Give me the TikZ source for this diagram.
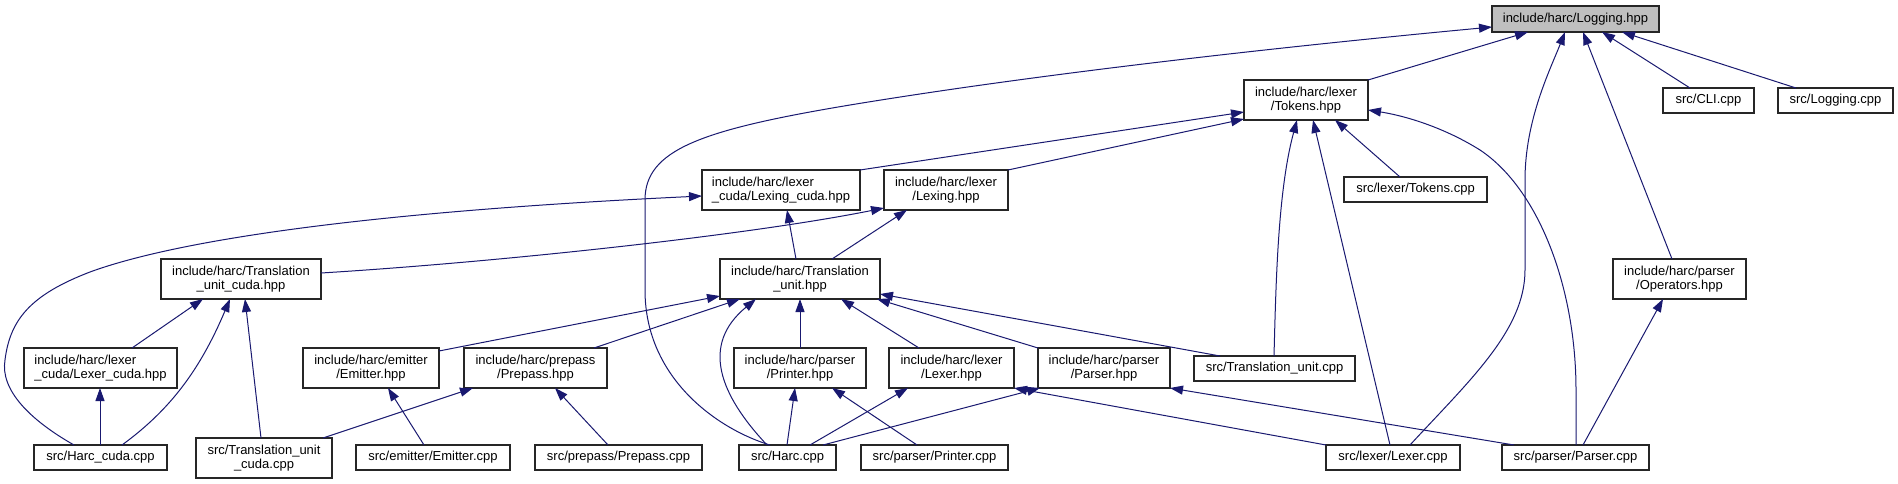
\documentclass[tikz,border=0pt]{standalone}
\usepackage{fontspec}
\setmainfont{Liberation Sans}
\usetikzlibrary{arrows.meta}
\definecolor{edgeblue}{HTML}{191970}
\definecolor{rootgray}{HTML}{BFBFBF}
\begin{document}
\begin{tikzpicture}[x=1pt,y=-1pt,
  box/.style={draw=black!85, line width=1.1pt, fill=white, inner sep=0pt, outer sep=0pt,
    font=\fontsize{13pt}{14.7pt}\selectfont, align=center},
  edge/.style={draw=edgeblue, line width=1pt, -{Triangle[length=13pt,width=9pt]}},
]
\fill[white] (0,0) rectangle (1898,484);
\useasboundingbox (0,0) rectangle (1898,484);

% rank 0
\node[box, fill=rootgray, minimum width=167pt, minimum height=26pt] (log) at (1575.5,19) {include/harc/Logging.hpp};
% rank 1
\node[box, minimum width=124pt, minimum height=40pt] (tokh) at (1306,100) {include/harc/lexer\\/Tokens.hpp};
\node[box, minimum width=91pt, minimum height=25pt] (cli) at (1708.5,100.5) {src/CLI.cpp};
\node[box, minimum width=115pt, minimum height=25pt] (logc) at (1835.5,100.5) {src/Logging.cpp};
% rank 2
\node[box, align=left, minimum width=158pt, minimum height=40pt] (lexcudah) at (781,190) {include/harc/lexer\\\_cuda/Lexing\_cuda.hpp};
\node[box, minimum width=124pt, minimum height=40pt] (lexingh) at (946,190) {include/harc/lexer\\/Lexing.hpp};
\node[box, minimum width=143pt, minimum height=25pt] (tokc) at (1415.5,189.5) {src/lexer/Tokens.cpp};
% rank 3
\node[box, minimum width=160pt, minimum height=40pt] (tucudah) at (241,279) {include/harc/Translation\\\_unit\_cuda.hpp};
\node[box, minimum width=160pt, minimum height=40pt] (tuh) at (800,279) {include/harc/Translation\\\_unit.hpp};
\node[box, minimum width=133pt, minimum height=40pt] (oph) at (1679.5,279) {include/harc/parser\\/Operators.hpp};
% rank 4
\node[box, align=left, minimum width=153pt, minimum height=40pt] (lexercudah) at (100.5,368) {include/harc/lexer\\\_cuda/Lexer\_cuda.hpp};
\node[box, minimum width=136pt, minimum height=40pt] (emith) at (371,368) {include/harc/emitter\\/Emitter.hpp};
\node[box, minimum width=143pt, minimum height=40pt] (prepassh) at (535.5,368) {include/harc/prepass\\/Prepass.hpp};
\node[box, minimum width=132pt, minimum height=40pt] (printh) at (800,368) {include/harc/parser\\/Printer.hpp};
\node[box, minimum width=125pt, minimum height=40pt] (lexerh) at (951.5,368) {include/harc/lexer\\/Lexer.hpp};
\node[box, minimum width=132pt, minimum height=40pt] (parseh) at (1104,368) {include/harc/parser\\/Parser.hpp};
\node[box, minimum width=161pt, minimum height=25pt] (tuc) at (1274.5,368.5) {src/Translation\_unit.cpp};
% rank 5
\node[box, minimum width=133pt, minimum height=25pt] (harccuda) at (100.5,457.5) {src/Harc\_cuda.cpp};
\node[box, minimum width=136pt, minimum height=40pt] (tucudac) at (264,458) {src/Translation\_unit\\\_cuda.cpp};
\node[box, minimum width=154pt, minimum height=25pt] (emitc) at (433,457.5) {src/emitter/Emitter.cpp};
\node[box, minimum width=167pt, minimum height=25pt] (prepassc) at (618.5,457.5) {src/prepass/Prepass.cpp};
\node[box, minimum width=97pt, minimum height=25pt] (harc) at (787.5,457.5) {src/Harc.cpp};
\node[box, minimum width=147pt, minimum height=25pt] (printc) at (934.5,457.5) {src/parser/Printer.cpp};
\node[box, minimum width=134pt, minimum height=25pt] (lexerc) at (1393,457.5) {src/lexer/Lexer.cpp};
\node[box, minimum width=147pt, minimum height=25pt] (parsec) at (1575.5,457.5) {src/parser/Parser.cpp};

% edges to Logging.hpp
\draw[edge] ([xshift=31pt]harc.north west) .. controls (720,430) and (645,380) .. (645,290) -- (645,200) .. controls (645,150) and (700,130) .. (850,105) .. controls (1050,72) and (1300,45) .. ([yshift=-8pt]log.west);
\draw[edge] (tokh.north east) -- ([xshift=36pt]log.south west);
\draw[edge] ([xshift=84pt]lexerc.north west) .. controls (1470,380) and (1525,330) .. (1525,270) -- (1525,180) .. controls (1525,120) and (1550,70) .. ([xshift=73pt]log.south west);
\draw[edge] ([xshift=59pt]oph.north west) -- ([xshift=91pt]log.south west);
\draw[edge] ([xshift=27pt]cli.north west) -- ([xshift=110pt]log.south west);
\draw[edge] ([xshift=18pt]logc.north west) -- ([xshift=130pt]log.south west);

% edges to Tokens.hpp
\draw[edge] (lexcudah.north east) -- ([yshift=-12pt]tokh.west);
\draw[edge] (lexingh.north east) -- ([yshift=1pt]tokh.south west);
\draw[edge] ([xshift=56pt]tokc.north west) -- ([xshift=91pt]tokh.south west);
\draw[edge] ([xshift=80pt]tuc.north west) .. controls (1276,280) and (1278,190) .. ([xshift=53pt]tokh.south west);
\draw[edge] ([xshift=64pt]lexerc.north west) -- ([xshift=69pt]tokh.south west);
\draw[edge] ([xshift=74pt]parsec.north west) -- (1576,390) .. controls (1576,290) and (1540,190) .. (1480,150) .. controls (1440,125) and (1400,115) .. ([yshift=-10pt]tokh.east);

% edges to Lexing_cuda / Lexing
\draw[edge] ([xshift=40pt]harccuda.north west) .. controls (30,420) and (0,390) .. (5,360) .. controls (10,320) and (30,295) .. (90,272) .. controls (150,250) and (300,215) .. ([yshift=-6pt]lexcudah.west);
\draw[edge] ([yshift=6pt]tucudah.east) .. controls (500,262) and (750,235) .. ([yshift=2pt]lexingh.south west);
\draw[edge] ([xshift=76pt]tuh.north west) -- ([xshift=85pt]lexcudah.south west);
\draw[edge] ([xshift=112pt]tuh.north west) -- ([xshift=23pt]lexingh.south west);

% edges to Translation_unit_cuda.hpp
\draw[edge] ([xshift=108pt]lexercudah.north west) -- ([xshift=42pt]tucudah.south west);
\draw[edge] ([xshift=88pt]harccuda.north west) .. controls (170,410) and (200,370) .. ([xshift=69pt]tucudah.south west);
\draw[edge] ([xshift=65pt]tucudac.north west) -- ([xshift=84pt]tucudah.south west);
\draw[edge] ([xshift=66pt]harccuda.north west) -- ([xshift=76pt]lexercudah.south west);

% edges to Translation_unit.hpp
\draw[edge] ([yshift=-3pt]emith.north east) -- ([yshift=-17pt]tuh.west);
\draw[edge] ([xshift=130pt]prepassh.north west) -- ([xshift=20pt]tuh.south west);
\draw[edge] ([xshift=28pt]harc.north west) .. controls (720,395) and (700,345) .. ([xshift=36pt]tuh.south west);
\draw[edge] (printh.north) -- (tuh.south);
\draw[edge] ([xshift=30pt]lexerh.north west) -- ([xshift=121pt]tuh.south west);
\draw[edge] (parseh.north west) -- ([xshift=-3pt]tuh.south east);
\draw[edge] ([xshift=26pt]tuc.north west) -- ([yshift=-15pt]tuh.east);

% lower edges
\draw[edge] ([xshift=-9pt]tucudac.north east) -- ([xshift=9pt]prepassh.south west);
\draw[edge] ([xshift=73pt]prepassc.north west) -- ([xshift=91pt]prepassh.south west);
\draw[edge] ([xshift=68pt]emitc.north west) -- ([xshift=85pt]emith.south west);
\draw[edge] ([xshift=48pt]harc.north west) -- ([xshift=61pt]printh.south west);
\draw[edge] ([xshift=56pt]printc.north west) -- ([xshift=98pt]printh.south west);
\draw[edge] ([xshift=71pt]harc.north west) -- ([xshift=19pt]lexerh.south west);
\draw[edge] ([xshift=84pt]harc.north west) -- ([xshift=2pt]parseh.south west);
\draw[edge] (lexerc.north west) -- (lexerh.south east);
\draw[edge] ([xshift=12pt]parsec.north west) -- (parseh.south east);
\draw[edge] ([xshift=81pt]parsec.north west) -- ([xshift=50pt]oph.south west);
\end{tikzpicture}
\end{document}
